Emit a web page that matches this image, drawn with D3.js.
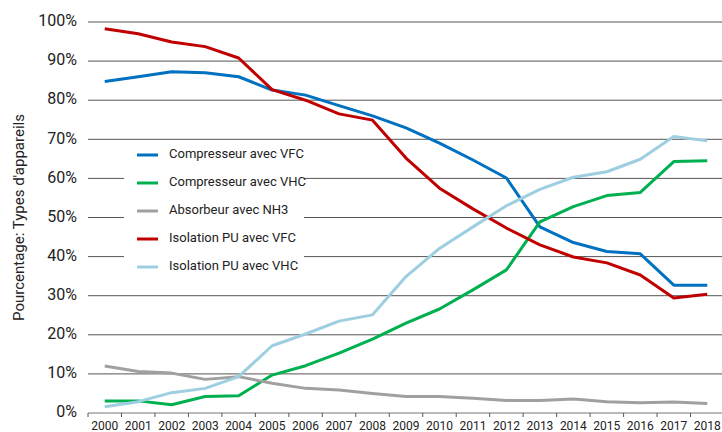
<!DOCTYPE html>
<html>
<head>
<meta charset="utf-8">
<script src="https://cdn.jsdelivr.net/npm/d3@7"></script>
<style>
body{margin:0;background:#fff;}
text{font-family:Roboto,"Noto Sans",sans-serif;fill:#222;}
</style>
</head>
<body>
<svg></svg>
<script>
const years=["2000","2001","2002","2003","2004","2005","2006","2007","2008","2009","2010","2011","2012","2013","2014","2015","2016","2017","2018"];
const yTicks=[0,10,20,30,40,50,60,70,80,90,100];

const compVFC=[84.8,86.0,87.3,87.0,86.0,82.6,81.3,78.6,76.0,72.9,69.0,64.7,60.1,47.6,43.6,41.3,40.7,32.7,32.7];
const compVHC=[3.1,3.1,2.1,4.2,4.4,9.7,12.1,15.3,18.9,23.0,26.6,31.5,36.6,48.9,52.8,55.6,56.4,64.3,64.5];
const absNH3=[12.0,10.6,10.2,8.6,9.3,7.6,6.3,5.9,5.0,4.2,4.2,3.8,3.2,3.2,3.6,2.9,2.6,2.8,2.4];
const isoVFC=[98.3,97.0,94.9,93.7,90.8,82.7,80.0,76.5,74.9,65.2,57.5,52.2,47.3,43.0,39.9,38.4,35.3,29.4,30.4];
const isoVHC=[1.6,2.9,5.2,6.3,9.3,17.2,20.2,23.5,25.1,34.9,42.1,47.6,53.0,57.2,60.3,61.7,64.9,70.7,69.6];

const seriesNames=["Compresseur avec VFC","Compresseur avec VHC","Absorbeur avec NH3","Isolation PU avec VFC","Isolation PU avec VHC"];
const seriesValues=[compVFC,compVHC,absNH3,isoVFC,isoVHC];
const seriesColors=["#0070C0","#00B050","#A0A0A0","#C00000","#9DCFE0"];

const W=722,H=432;
const svg=d3.select("svg").attr("width",W).attr("height",H);

var x=d3.scaleBand().domain(years).range([88,724]).padding(0);
var y=d3.scaleLinear().domain([0,100]).range([413,22]);

// gridlines
svg.append("g").selectAll("line").data(yTicks.slice(1)).enter().append("line")
  .attr("x1",88).attr("x2",724)
  .attr("y1",d=>y(d)).attr("y2",d=>y(d))
  .style("stroke","#555").style("stroke-width",1);

// y labels
svg.append("g").selectAll("text").data(yTicks).enter().append("text")
  .attr("x",77).attr("y",d=>y(d))
  .attr("text-anchor","end").attr("dominant-baseline","middle")
  .style("font-size","16px")
  .text(d=>d+"%");

// x axis
var xAxis=svg.append("g").attr("transform","translate(0,"+y(0)+")");
xAxis.append("line").attr("x1",88).attr("x2",724).attr("y1",0).attr("y2",0)
  .style("stroke","#777").style("stroke-width",1);
xAxis.selectAll(".tk").data(years).enter().append("line")
  .attr("class","tk")
  .attr("x1",d=>x(d)).attr("x2",d=>x(d))
  .attr("y1",0).attr("y2",4)
  .style("stroke","#555").style("stroke-width",1);
xAxis.selectAll("text").data(years).enter().append("text")
  .attr("x",d=>x(d)+x.bandwidth()/2)
  .attr("y",17)
  .attr("text-anchor","middle")
  .style("font-size","12px")
  .text(d=>d);

// y title
svg.append("text")
  .attr("transform","translate(24,"+((y(0)+y(100))/2)+") rotate(-90)")
  .attr("text-anchor","middle")
  .style("font-size","15px")
  .text("Pourcentage: Types d'appareils");

// lines
var line=d3.line()
  .x((d,i)=>x(years[i])+x.bandwidth()/2)
  .y(d=>y(d));
svg.append("g").selectAll("path").data(seriesValues).enter().append("path")
  .attr("d",d=>line(d))
  .style("fill","none")
  .style("stroke",(d,i)=>seriesColors[i])
  .style("stroke-width",3)
  .style("stroke-linejoin","round");

// legend
var legend=svg.append("g");
legend.append("rect").attr("x",124).attr("y",143).attr("width",180).attr("height",141).style("fill","#fff");
var items=legend.selectAll(".item").data(seriesNames).enter().append("g")
  .attr("transform",(d,i)=>"translate(137,"+(155+i*28)+")");
items.append("line").attr("x1",0).attr("x2",21).attr("y1",0).attr("y2",0)
  .style("stroke",(d,i)=>seriesColors[i]).style("stroke-width",3);
items.append("text").attr("x",32).attr("y",0)
  .attr("dominant-baseline","middle")
  .style("font-size","13px")
  .text(d=>d);
</script>
</body>
</html>
